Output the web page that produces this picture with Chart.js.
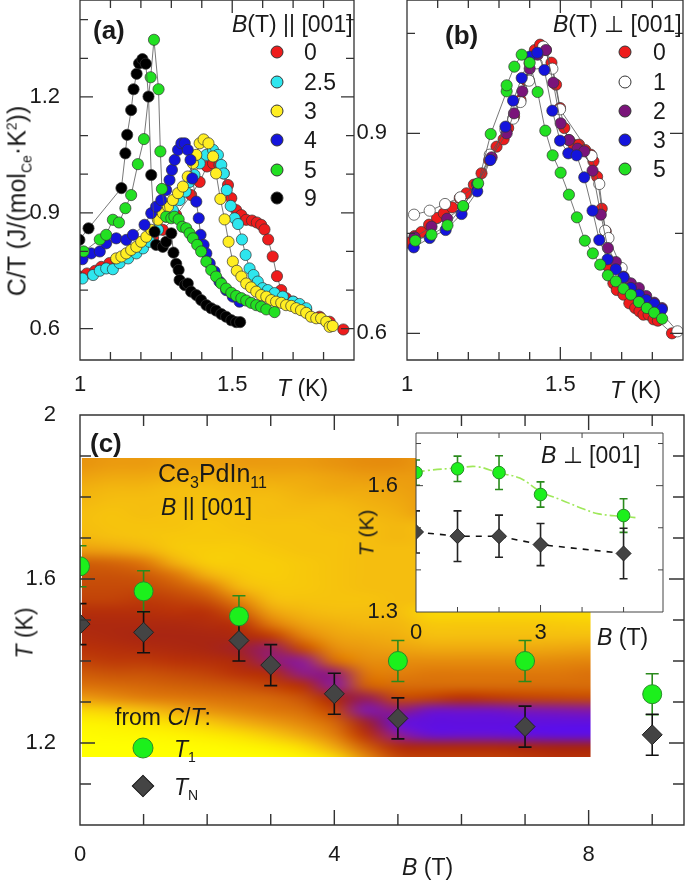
<!DOCTYPE html>
<html>
<head>
<meta charset="utf-8">
<script src="https://cdn.jsdelivr.net/npm/chart.js@4"></script>
<style>
  html, body { margin: 0; padding: 0; background: #fff; }
  #page { position: relative; width: 685px; height: 881px; overflow: hidden; font-family: "Liberation Sans", Arial, sans-serif; color: #1a1a1a; }
  canvas { position: absolute; }
  .t { position: absolute; font-size: 23px; line-height: 1; white-space: nowrap; transform: translateY(-50%); z-index: 5; }
  .b { font-weight: bold; font-size: 26px; }
  .r { transform: translate(-50%, -50%) rotate(-90deg); }
  sub, sup { font-size: 14px; line-height: 0; }
  .dot { position: absolute; width: 11px; height: 11px; border-radius: 50%; border: 0.8px solid #333; transform: translate(-50%, -50%); z-index: 5; }
  .big { position: absolute; width: 19px; height: 19px; border-radius: 50%; background: #1cf01c; border: 1px solid #2a8a2a; transform: translate(-50%, -50%); z-index: 5; }
  .dia { position: absolute; width: 14px; height: 14px; background: #444; border: 1px solid #222; transform: translate(-50%, -50%) rotate(45deg); z-index: 5; }
</style>
</head>
<body>
<div id="page">
  <canvas id="chartA" width="360" height="400" style="left:0;top:0"></canvas>
  <canvas id="chartB" width="345" height="400" style="left:340px;top:0"></canvas>
  <canvas id="chartC" width="685" height="481" style="left:0;top:400px"></canvas>
  <canvas id="chartInset" width="310" height="230" style="left:366px;top:420px"></canvas>

  <div class="t b" style="left:93px;top:30px">(a)</div>
  <div class="t" style="left:232px;top:24px"><i>B</i>(T) || [001]</div>
  <div class="t r" style="left:17px;top:201px;font-size:25px">C/T (J/(mol<sub>Ce</sub>·K<sup>2</sup>))</div>
  <div class="t" style="left:277px;top:388px"><i>T</i> (K)</div>

  <div class="t b" style="left:445px;top:35px">(b)</div>
  <div class="t" style="left:553px;top:24px"><i>B</i>(T) ⊥ [001]</div>
  <div class="t" style="left:610px;top:390px"><i>T</i> (K)</div>

  <div class="t b" style="left:90px;top:443px">(c)</div>
  <div class="t" style="left:158px;top:473px;font-size:25px">Ce<sub style="font-size:16px">3</sub>PdIn<sub style="font-size:16px">11</sub></div>
  <div class="t" style="left:161px;top:507px"><i>B</i> || [001]</div>
  <div class="t r" style="left:25px;top:633px"><i>T</i> (K)</div>
  <div class="t" style="left:115px;top:717px">from <i>C</i>/<i>T</i>:</div>
  <div class="big" style="left:143px;top:748px"></div>
  <div class="t" style="left:174px;top:749px"><i>T</i><sub>1</sub></div>
  <div class="dia" style="left:143px;top:786px"></div>
  <div class="t" style="left:174px;top:787px"><i>T</i><sub>N</sub></div>
  <div class="t" style="left:402px;top:867px"><i>B</i> (T)</div>

  <div class="t r" style="left:366px;top:533px;font-size:21px"><i>T</i> (K)</div>
  <div class="t" style="left:541px;top:455px"><i>B</i> ⊥ [001]</div>
  <div class="t" style="left:597px;top:637px"><i>B</i> (T)</div>
</div>

<script>
// panel (a), B || [001]: [T, C/T]
const a0 = [[1.0,.735],[1.023,.743],[1.05,.75],[1.07,.76],[1.097,.77],[1.12,.78],[1.15,.79],[1.18,.8],[1.21,.82],[1.24,.835],[1.272,.856],[1.316,.894],[1.365,.946],[1.393,.98],[1.417,1.02],[1.437,1.028],[1.458,1.024],[1.472,1.002],[1.486,.972],[1.497,.938],[1.513,.907],[1.53,.894],[1.546,.882],[1.565,.88],[1.581,.875],[1.595,.869],[1.606,.857],[1.618,.831],[1.633,.787],[1.647,.736],[1.661,.7],[1.677,.679],[1.7,.67],[1.743,.648],[1.787,.631],[1.82,.618],[1.865,.598]];
const a25 = [[1.008,.73],[1.043,.739],[1.065,.75],[1.086,.756],[1.108,.754],[1.13,.77],[1.158,.782],[1.185,.795],[1.207,.808],[1.229,.825],[1.256,.856],[1.283,.89],[1.305,.907],[1.327,.933],[1.347,.955],[1.36,.98],[1.376,.998],[1.393,1.028],[1.415,1.05],[1.437,1.063],[1.453,1.05],[1.464,1.024],[1.472,1.002],[1.482,.959],[1.495,.918],[1.508,.886],[1.519,.871],[1.532,.831],[1.544,.791],[1.557,.756],[1.57,.739],[1.584,.722],[1.6,.705],[1.617,.7],[1.639,.692],[1.666,.683],[1.7,.67],[1.721,.664],[1.743,.653]];
const a3 = [[1.119,.782],[1.136,.787],[1.152,.795],[1.168,.804],[1.185,.812],[1.201,.825],[1.218,.838],[1.234,.856],[1.256,.882],[1.272,.899],[1.289,.916],[1.305,.933],[1.322,.951],[1.338,.968],[1.354,.994],[1.371,1.028],[1.382,1.05],[1.393,1.08],[1.406,1.09],[1.422,1.08],[1.437,1.046],[1.447,1.002],[1.461,.936],[1.475,.883],[1.488,.825],[1.502,.774],[1.515,.75],[1.53,.735],[1.546,.717],[1.562,.707],[1.579,.696],[1.595,.687],[1.612,.683],[1.628,.674],[1.644,.67],[1.661,.667],[1.677,.661],[1.694,.659],[1.71,.653],[1.726,.648],[1.743,.641],[1.759,.631],[1.776,.627],[1.792,.627],[1.809,.618],[1.82,.605],[1.83,.607]];
const a4 = [[1.008,.78],[1.037,.795],[1.065,.8],[1.086,.821],[1.119,.834],[1.152,.83],[1.174,.843],[1.212,.869],[1.234,.899],[1.25,.916],[1.267,.933],[1.283,.959],[1.294,.985],[1.302,1.011],[1.311,1.037],[1.322,1.063],[1.333,1.08],[1.344,1.08],[1.354,1.063],[1.363,1.037],[1.369,.989],[1.382,.929],[1.39,.886],[1.396,.843],[1.406,.817],[1.415,.795],[1.426,.769],[1.442,.748],[1.458,.722],[1.48,.7],[1.502,.683],[1.524,.67]];
const a5 = [[1.012,.8],[1.065,.831],[1.086,.843],[1.108,.882],[1.128,.875],[1.149,.912],[1.168,.946],[1.19,1.026],[1.21,1.091],[1.232,1.251],[1.243,1.348],[1.258,1.22],[1.264,1.059],[1.269,.962],[1.283,.89],[1.3,.886],[1.31,.89],[1.324,.883],[1.336,.864],[1.349,.86],[1.36,.847],[1.371,.834],[1.385,.817],[1.398,.8],[1.415,.774],[1.431,.752],[1.447,.735],[1.464,.717],[1.48,.704],[1.497,.693],[1.513,.685],[1.53,.679],[1.546,.673],[1.562,.667],[1.579,.661],[1.595,.657],[1.612,.65],[1.639,.643]];
const a9 = [[.998,.83],[1.028,.86],[1.136,.964],[1.149,1.054],[1.155,1.102],[1.168,1.166],[1.176,1.22],[1.186,1.26],[1.194,1.287],[1.205,1.298],[1.216,1.286],[1.225,1.201],[1.234,.998],[1.245,.851],[1.25,.817],[1.272,.812],[1.283,.825],[1.3,.847],[1.307,.797],[1.316,.768],[1.324,.752],[1.327,.726],[1.344,.713],[1.354,.717],[1.365,.696],[1.382,.687],[1.398,.674],[1.415,.661],[1.431,.653],[1.447,.647],[1.464,.638],[1.48,.631],[1.497,.622],[1.513,.617],[1.526,.617]];
const aSeries = [a0, a25, a3, a4, a5, a9];
const aLabels = ['0', '2.5', '3', '4', '5', '9'];
const aColors = ['#ee1c1c', '#2ee6ee', '#ffee22', '#1414dc', '#22e022', '#000000'];

// panel (b), B perpendicular to [001]: [T, C/T]
const b0 = [[1.003,.736],[1.025,.746],[1.047,.752],[1.072,.763],[1.098,.773],[1.12,.78],[1.147,.789],[1.172,.803],[1.194,.81],[1.218,.823],[1.243,.84],[1.268,.86],[1.292,.88],[1.315,.891],[1.33,.908],[1.349,.925],[1.37,.95],[1.387,.98],[1.4,1.005],[1.417,1.025],[1.434,1.033],[1.453,1.025],[1.471,1.006],[1.486,.973],[1.499,.938],[1.513,.908],[1.528,.89],[1.543,.883],[1.561,.883],[1.581,.875],[1.599,.868],[1.608,.858],[1.62,.835],[1.635,.787],[1.648,.753],[1.657,.7],[1.673,.675],[1.684,.665],[1.706,.658],[1.725,.645],[1.744,.638],[1.758,.633],[1.771,.628],[1.788,.628],[1.804,.621],[1.818,.619],[1.864,.6]];
const b1 = [[1.023,.778],[1.074,.784],[1.124,.794],[1.174,.804],[1.229,.823],[1.27,.868],[1.321,.905],[1.346,.922],[1.37,.947],[1.398,.979],[1.423,1.005],[1.444,1.03],[1.474,.997],[1.499,.936],[1.602,.866],[1.627,.824],[1.646,.754],[1.657,.743],[1.7,.698],[1.882,.603]];
const b2 = [[1.025,.744],[1.08,.76],[1.131,.772],[1.183,.79],[1.229,.824],[1.276,.864],[1.325,.9],[1.349,.93],[1.376,.963],[1.4,.997],[1.426,1.018],[1.453,1.025],[1.477,.976],[1.501,.915],[1.528,.89],[1.556,.877],[1.578,.873],[1.605,.844],[1.632,.778],[1.655,.728],[1.681,.707],[1.706,.685],[1.73,.675],[1.756,.668],[1.78,.656],[1.806,.646],[1.831,.638]];
const b3 = [[1.022,.729],[1.074,.743],[1.126,.755],[1.178,.779],[1.229,.813],[1.272,.86],[1.321,.91],[1.346,.949],[1.374,.983],[1.4,1.015],[1.425,1.021],[1.448,.995],[1.474,.934],[1.499,.889],[1.526,.87],[1.553,.867],[1.578,.834],[1.605,.784],[1.627,.74],[1.654,.711],[1.681,.696],[1.706,.684],[1.73,.668],[1.756,.658],[1.78,.65],[1.806,.644],[1.831,.636]];
const b5 = [[1.027,.739],[1.08,.748],[1.132,.762],[1.183,.791],[1.232,.825],[1.273,.899],[1.325,.963],[1.325,.972],[1.35,1.0],[1.374,1.018],[1.4,1.006],[1.426,.962],[1.451,.904],[1.475,.867],[1.501,.841],[1.528,.808],[1.554,.774],[1.58,.739],[1.606,.72],[1.63,.703],[1.655,.687],[1.681,.678],[1.706,.667],[1.73,.658],[1.756,.647],[1.782,.638],[1.806,.631],[1.832,.622]];
const bSeries = [b0, b1, b2, b3, b5];
const bLabels = ['0', '1', '2', '3', '5'];
const bColors = ['#ee1c1c', '#ffffff', '#7a147a', '#1414dc', '#22e022'];

// panel (c), phase diagram
const t1B = [0, 1, 2.5, 5, 7, 9];
const t1T = [1.631, 1.57, 1.509, 1.4, 1.4, 1.319];
const t1Err = [.05, .05, .05, .05, .05, .05];
const tnB = [0, 1, 2.5, 3, 4, 5, 7, 9];
const tnT = [1.49, 1.47, 1.45, 1.39, 1.32, 1.26, 1.24, 1.22];
const tnErr = [.05, .05, .05, .05, .05, .05, .05, .05];

// colour map behind panel (c), one column of levels per field
const heatB = [0, .5, 1, 1.5, 2, 2.5, 3, 3.5, 4, 4.5, 5, 5.5, 6, 6.5, 7, 7.5, 8];
const heatT = [1.88, 1.85, 1.82, 1.79, 1.76, 1.73, 1.7, 1.67, 1.64, 1.61, 1.58, 1.55, 1.52, 1.49, 1.46, 1.43, 1.4, 1.37, 1.34, 1.31, 1.28, 1.25, 1.22, 1.19, 1.16];
const heatLevels = [
  [4.2,3.8,3.4,3.2,3,3,3.2,4,5.8,6.2,6.4,6.6,7.2,7.6,7.4,7,6.6,6,5.2,4,2,.6,.2,0,0],
  [4,3.6,3.2,3,2.8,2.8,3,3.8,5.6,6.2,6.4,6.6,7.2,7.6,7.6,7.2,6.8,6.2,5.4,4.4,2.4,.8,.3,0,0],
  [4,3.6,3.2,3,3,2.8,2.8,3.4,5,6,6.4,6.8,7.2,7.6,7.8,7.4,6.8,6.2,5.6,4.8,3,1.2,.4,0,0],
  [3.8,3.4,3,3,2.8,2.8,2.6,2.6,3.4,5,6,6.6,7,7.6,7.8,7.6,7,6.4,5.8,5,3.6,1.8,.6,.1,0],
  [3.8,3.4,3,2.8,2.8,2.6,2.6,2.4,2.4,3.4,5,6.2,7,7.4,7.8,7.8,7.2,6.6,6,5.2,4.2,2.6,1,.2,0],
  [4,3.4,3.2,3,2.8,2.8,2.6,2.4,2.4,2.6,3.2,4.6,6,7,7.6,8.2,7.6,7,6.2,5.4,4.6,3.4,1.6,.4,0],
  [4,3.6,3.2,3,3,2.8,2.8,2.6,2.4,2.4,2.6,3,3.8,5,6.8,8.7,8.7,7.4,6.6,5.6,5,4,2.6,.8,.1],
  [4,3.6,3.4,3.2,3,2.8,2.8,2.8,2.6,2.6,2.6,2.8,3.2,3.8,4.8,6.4,9,8.9,7.2,6.2,5.4,4.6,3.6,1.8,.4],
  [4.2,3.8,3.6,3.2,3,3,2.8,2.8,2.8,2.8,2.8,2.8,3,3.4,3.8,4.4,5.4,8.8,9.1,7.8,6.6,5.6,4.8,3.6,1.6],
  [4.4,4,3.6,3.4,3.2,3,3,3,3,3,3,2.8,3,3.2,3.6,4,4.4,5,5.8,8.6,9.3,8.2,7,5.8,4.4],
  [4.4,4,3.8,3.6,3.4,3.2,3.2,3,3,3,3,3,3,3.2,3.4,3.8,4.4,4.8,5.4,6.4,8.8,9.8,9,7.4,6.4],
  [4,4,4,4,4,3,3,3,3,3,3,3,2,2.6,3,3.6,4.4,5,5.4,6.6,9.6,10,9.8,7.6,6.6],
  [4,4,4,4,4,3,3,3,3,3,3,3,2,2.6,3,3.6,4.4,5,5.4,7,9.6,10,9.8,7.6,6.6],
  [4,4,4,4,4,3,3,3,3,3,3,3,2,2.6,3,3.6,4.4,5,5.4,6.8,9.6,10,9.8,7.6,6.6],
  [4,4,4,4,4,3,3,3,3,3,3,3,2,2.6,3,3.6,4.4,5,5.4,6.6,9.4,10,9.9,7.8,6.8],
  [4,4,4,4,4,3,3,3,3,3,3,3,1.9,2.5,3,3.7,4.5,5,5.4,6.5,9.3,10,10,8,7],
  [4,4,4,4,4,3,3,3,3,3,3,3,1.8,2.4,3,3.8,4.6,5.2,5.4,6.4,9.2,10,10,8,7]
];

// inset of panel (c)
const insetB = [0, 1, 2, 3, 5];
const insetT1 = [1.631, 1.64, 1.631, 1.579, 1.529];
const insetT1Err = [.03, .03, .04, .03, .04];
const insetTn = [1.49, 1.48, 1.48, 1.46, 1.439];
const insetTnErr = [.05, .06, .05, .05, .06];
const guideB = [0, .27, 1, 1.48, 2, 2.5, 3, 3.5, 4, 4.4, 5, 5.3];
const guideT = [1.631, 1.636, 1.642, 1.645, 1.63, 1.618, 1.586, 1.566, 1.546, 1.533, 1.527, 1.524];

const FONT = '"Liberation Sans", Arial, sans-serif';
const zip = (xs, ys) => xs.map((x, i) => ({ x: x, y: ys[i] }));

// level -> colour stops
const heatStops = [[0,255,255,0],[1,253,235,0],[2,250,215,5],[3,245,190,15],[4,235,155,15],[5,222,120,10],[6,205,90,8],[7,185,50,8],[8,165,35,20],[8.6,150,30,90],[9,140,28,150],[10,95,15,225]];
function heatColor(v) {
    for (let i = 1; i < heatStops.length; i++) {
        const a = heatStops[i - 1], b = heatStops[i];
        if (v <= b[0]) {
            const f = (v - a[0]) / (b[0] - a[0]);
            return [1, 2, 3].map(k => a[k] + (b[k] - a[k]) * f);
        }
    }
    return heatStops[heatStops.length - 1].slice(1);
}

const heatPlugin = {
    id: 'heat',
    beforeDatasetsDraw(chart) {
        const cols = heatB.length, rows = heatT.length;
        const off = document.createElement('canvas');
        off.width = cols;
        off.height = rows;
        const octx = off.getContext('2d');
        const img = octx.createImageData(cols, rows);
        for (let c = 0; c < cols; c++) {
            for (let r = 0; r < rows; r++) {
                const rgb = heatColor(heatLevels[c][r]);
                const p = (r * cols + c) * 4;
                img.data[p] = rgb[0]; img.data[p + 1] = rgb[1]; img.data[p + 2] = rgb[2]; img.data[p + 3] = 255;
            }
        }
        octx.putImageData(img, 0, 0);
        const x = chart.scales.x, y = chart.scales.y, ctx = chart.ctx;
        const left = x.getPixelForValue(heatB[0] - .25), right = x.getPixelForValue(heatB[cols - 1] + .25);
        const top = y.getPixelForValue(heatT[0] + .015), bottom = y.getPixelForValue(heatT[rows - 1] - .015);
        ctx.save();
        ctx.beginPath();
        const cl = x.getPixelForValue(.03), cr = x.getPixelForValue(8.03), ct = y.getPixelForValue(1.895), cb = y.getPixelForValue(1.166);
        ctx.rect(cl, ct, cr - cl, cb - ct);
        ctx.clip();
        ctx.imageSmoothingEnabled = true;
        ctx.imageSmoothingQuality = 'high';
        ctx.drawImage(off, left, top, right - left, bottom - top);
        ctx.restore();
    }
};

// error bars from the dataset's own errY array, drawn under the markers
const errPlugin = {
    id: 'errBars',
    beforeDatasetsDraw(chart, args, opts) {
        const ctx = chart.ctx, y = chart.scales.y, x = chart.scales.x, area = chart.chartArea;
        ctx.save();
        ctx.beginPath();
        ctx.rect(area.left, area.top, area.width, area.height);
        ctx.clip();
        chart.data.datasets.forEach(ds => {
            if (!ds.errY) return;
            ctx.strokeStyle = ds.errColor;
            ctx.lineWidth = 1.6;
            ds.data.forEach((pt, i) => {
                const px = x.getPixelForValue(pt.x);
                const hi = y.getPixelForValue(pt.y + ds.errY[i]), lo = y.getPixelForValue(pt.y - ds.errY[i]);
                ctx.beginPath();
                ctx.moveTo(px, hi); ctx.lineTo(px, lo);
                ctx.moveTo(px - opts.cap, hi); ctx.lineTo(px + opts.cap, hi);
                ctx.moveTo(px - opts.cap, lo); ctx.lineTo(px + opts.cap, lo);
                ctx.stroke();
            });
        });
        ctx.restore();
    }
};

const whitePane = {
    id: 'whitePane',
    beforeDraw(chart) {
        const a = chart.chartArea;
        chart.ctx.fillStyle = '#fff';
        chart.ctx.fillRect(a.left, a.top, a.width, a.height);
    }
};

// box with inward ticks on all four sides
const framePlugin = {
    id: 'frame',
    afterDraw(chart, args, o) {
        const ctx = chart.ctx, a = chart.chartArea, x = chart.scales.x, y = chart.scales.y;
        ctx.save();
        ctx.strokeStyle = o.color;
        ctx.lineWidth = o.width;
        ctx.beginPath();
        const xMark = (v, len) => {
            const p = x.getPixelForValue(v);
            ctx.moveTo(p, a.bottom); ctx.lineTo(p, a.bottom - len);
            ctx.moveTo(p, a.top); ctx.lineTo(p, a.top + len);
        };
        const yMark = (v, len) => {
            const p = y.getPixelForValue(v);
            ctx.moveTo(a.left, p); ctx.lineTo(a.left + len, p);
            ctx.moveTo(a.right, p); ctx.lineTo(a.right - len, p);
        };
        o.xMinor.forEach(v => xMark(v, o.minor));
        o.xMajor.forEach(v => xMark(v, o.major));
        o.yMinor.forEach(v => yMark(v, o.minor));
        o.yMajor.forEach(v => yMark(v, o.major));
        ctx.rect(a.left, a.top, a.width, a.height);
        ctx.stroke();
        ctx.restore();
    }
};

function axis(range, major, labelFmt, fixedSize, pad, fontSize) {
    return {
        type: 'linear',
        min: range[0],
        max: range[1],
        grid: { display: false },
        border: { display: false },
        ticks: {
            autoSkip: false, maxRotation: 0, padding: pad, color: '#1a1a1a',
            font: { family: FONT, size: fontSize },
            callback: v => labelFmt(v)
        },
        afterBuildTicks: s => { s.ticks = major.map(v => ({ value: v })); },
        afterFit: s => {
            if (s.isHorizontal()) s.height = fixedSize; else s.width = fixedSize;
            s.paddingTop = 0; s.paddingBottom = 0; s.paddingLeft = 0; s.paddingRight = 0;
        }
    };
}

function baseOptions(padding, xAxis, yAxis, frame, errCap) {
    return {
        responsive: false,
        animation: false,
        devicePixelRatio: 1,
        layout: { padding: padding, autoPadding: false },
        scales: { x: xAxis, y: yAxis },
        plugins: { legend: { display: false }, title: { display: false }, tooltip: { enabled: false }, frame: frame, errBars: { cap: errCap } }
    };
}

function curveSets(series, colors) {
    return series.map((pts, i) => ({
        data: pts,
        order: -i,
        borderColor: '#555',
        borderWidth: 0.8,
        pointRadius: 5.6,
        pointBackgroundColor: colors[i],
        pointBorderColor: '#333',
        pointBorderWidth: 0.7,
        tension: 0
    }));
}

const tenths = [1.1, 1.2, 1.3, 1.4, 1.6, 1.7, 1.8];

new Chart(document.getElementById('chartA'), {
    type: 'line',
    data: { datasets: curveSets(aSeries, aColors) },
    options: baseOptions({ top: 0, right: 6, left: 0, bottom: 0 },
        axis([1, 1.9], [1, 1.5], v => String(v), 40, 4, 22),
        axis([.519, 1.451], [.6, .9, 1.2], v => v.toFixed(1), 80, 12, 22),
        { xMinor: tenths, xMajor: [1, 1.5], yMinor: [.7, .8, 1, 1.1, 1.3, 1.4], yMajor: [.6, .9, 1.2], minor: 8, major: 13, color: '#333', width: 1.3 }, 5),
    plugins: [framePlugin]
});

new Chart(document.getElementById('chartB'), {
    type: 'line',
    data: { datasets: curveSets(bSeries, bColors) },
    options: baseOptions({ top: 0, right: 2, left: 0, bottom: 0 },
        axis([1, 1.9], [1, 1.5], v => String(v), 40, 4, 22),
        axis([.56, 1.1], [.6, .9], v => v.toFixed(1), 67, 12, 22),
        { xMinor: tenths, xMajor: [1, 1.5], yMinor: [.75, 1.05], yMajor: [.6, .9], minor: 8, major: 13, color: '#333', width: 1.3 }, 5),
    plugins: [framePlugin]
});

new Chart(document.getElementById('chartC'), {
    type: 'scatter',
    data: {
        datasets: [
            { data: zip(t1B, t1T), errY: t1Err, errColor: '#2a8a1c', order: 1, pointRadius: 9.5, pointBackgroundColor: '#1cf01c', pointBorderColor: '#2a8a2a', pointBorderWidth: 1 },
            { data: zip(tnB, tnT), errY: tnErr, errColor: '#111', order: 0, pointStyle: 'rectRot', pointRadius: 10, pointBackgroundColor: '#444', pointBorderColor: '#222', pointBorderWidth: 1 }
        ]
    },
    options: baseOptions({ top: 15, right: 1, left: 0, bottom: 0 },
        axis([0, 9.5], [0, 4, 8], v => String(v), 56, 9, 22),
        axis([1, 2], [1.2, 1.6, 2], v => (v === 2 ? '2' : v.toFixed(1)), 80, 16, 22),
        { xMinor: [1, 2, 3, 5, 6, 7, 9], xMajor: [4, 8], yMinor: [1.1, 1.3, 1.4, 1.5, 1.7, 1.8, 1.9], yMajor: [1.2, 1.6], minor: 11, major: 15, color: '#333', width: 1.4 }, 6.5),
    plugins: [heatPlugin, errPlugin, framePlugin]
});

new Chart(document.getElementById('chartInset'), {
    type: 'line',
    data: {
        datasets: [
            { data: zip(guideB, guideT), order: 3, borderColor: '#9fe85a', borderWidth: 1.6, borderDash: [9, 3, 2, 3], tension: .4, pointRadius: 0 },
            { data: zip(insetB, insetTn), order: 2, borderColor: '#111', borderWidth: 1.6, borderDash: [6, 6], tension: 0, pointRadius: 0 },
            { data: zip(insetB, insetT1), errY: insetT1Err, errColor: '#2a8a1c', order: 1, showLine: false, pointRadius: 6.3, pointBackgroundColor: '#1cf01c', pointBorderColor: '#2a8a2a', pointBorderWidth: 1 },
            { data: zip(insetB, insetTn), errY: insetTnErr, errColor: '#222', order: 0, showLine: false, pointStyle: 'rectRot', pointRadius: 7.5, pointBackgroundColor: '#444', pointBorderColor: '#222', pointBorderWidth: 1 }
        ]
    },
    options: baseOptions({ top: 13, right: 13, left: 0, bottom: 0 },
        axis([0, 5.95], [0, 3], v => String(v), 38, 0, 22),
        axis([1.3, 1.725], [1.3, 1.6], v => v.toFixed(1), 50, 10, 22),
        { xMinor: [1, 2, 4, 5], xMajor: [3], yMinor: [1.4, 1.5, 1.7], yMajor: [1.6], minor: 5, major: 7, color: '#444', width: 1 }, 4),
    plugins: [whitePane, errPlugin, framePlugin]
});

// legends for (a) and (b)
function addLegend(labels, colors, rowsY, dotX, textX) {
    const page = document.getElementById('page');
    labels.forEach((label, i) => {
        const dot = document.createElement('div');
        dot.className = 'dot';
        dot.style.cssText = 'left:' + dotX + 'px;top:' + rowsY[i] + 'px;background:' + colors[i];
        page.appendChild(dot);
        const txt = document.createElement('div');
        txt.className = 't';
        txt.style.cssText = 'left:' + textX + 'px;top:' + rowsY[i] + 'px';
        txt.textContent = label;
        page.appendChild(txt);
    });
}
addLegend(aLabels, aColors, [52, 82, 111, 140, 170, 198], 277, 304);
addLegend(bLabels, bColors, [52, 82, 111, 140, 169], 625, 653);
</script>
</body>
</html>
